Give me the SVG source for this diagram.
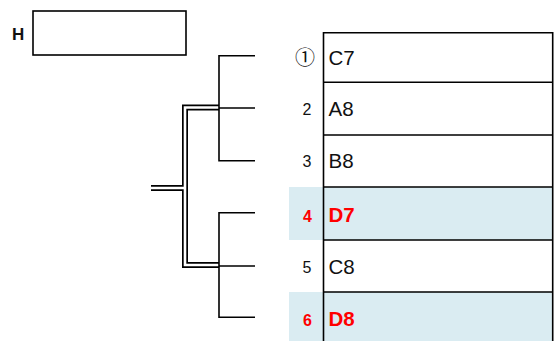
<svg xmlns="http://www.w3.org/2000/svg" width="555" height="341" viewBox="0 0 555 341">
<style>
.box{fill:none;stroke:#000;stroke-width:1.6}
.hl{fill:#DAECF2}
.br{fill:none;stroke:#000;stroke-width:1.6}
.dbo{fill:none;stroke:#000;stroke-width:6}
.dbi{fill:none;stroke:#fff;stroke-width:2.6}
.cell{font-family:"Liberation Sans",Arial,sans-serif;font-size:20.5px;fill:#111}
.num{font-family:"Liberation Sans",Arial,sans-serif;font-size:16px;fill:#111;text-anchor:end}
.red{fill:#FF0000;font-weight:bold}
</style>
<rect width="555" height="341" fill="#fff"/>
<g id="H">
<text x="12" y="40" font-family="Liberation Sans, Arial, sans-serif" font-size="17" font-weight="bold" fill="#111">H</text>
<rect class="box" x="33" y="11" width="153" height="44"/>
</g>
<rect class="hl" x="289" y="187" width="264" height="53"/>
<rect class="hl" x="289" y="292" width="264" height="52"/>
<g id="connectors">
<path class="dbo" d="M151,188 H185 V107.5 H219 M185,188 V265 H219"/>
<path class="dbi" d="M151,188 H185 V107.5 H219 M185,188 V265 H219"/>
<path class="br" d="M255,55.7 H219 V160.7 H255 M219,108 H255"/>
<path class="br" d="M255,212.7 H219 V317.3 H255 M219,266 H255"/>
</g>
<g id="table">
<path class="box" d="M323.5,344 V32.7 H552.7 V344 M323.5,82.3 H552.7 M323.5,135 H552.7 M323.5,187 H552.7 M323.5,240 H552.7 M323.5,292 H552.7"/>
</g>
<g id="r1"><text x="315" y="65" font-family="'Noto Sans CJK JP', 'DejaVu Sans', sans-serif" font-size="20" fill="#111" text-anchor="end">①</text><text class="cell" x="328.5" y="64.5">C7</text></g>
<g id="r2"><text class="num" x="311.5" y="114.5">2</text><text class="cell" x="328.5" y="115.5">A8</text></g>
<g id="r3"><text class="num" x="311.5" y="167">3</text><text class="cell" x="328.5" y="168">B8</text></g>
<g id="r4"><text class="num red" x="312" y="221.5">4</text><text class="cell red" x="328.5" y="221.5">D7</text></g>
<g id="r5"><text class="num" x="311.5" y="272.5">5</text><text class="cell" x="328.5" y="273.5">C8</text></g>
<g id="r6"><text class="num red" x="312" y="325.5">6</text><text class="cell red" x="328.5" y="325.5">D8</text></g>
</svg>
